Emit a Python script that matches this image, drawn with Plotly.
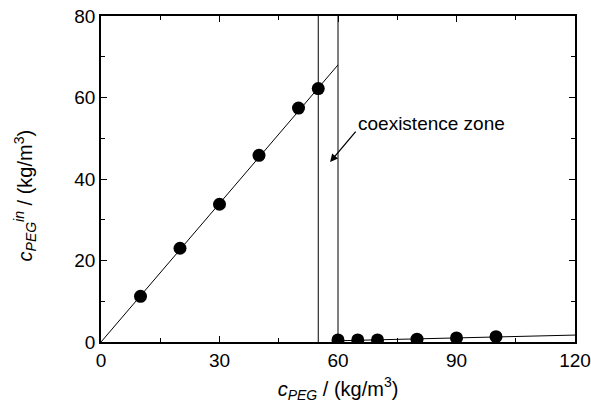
import plotly.graph_objects as go

# Data
x_low = [10, 20, 30, 40, 50, 55]
y_low = [11.2, 23.0, 33.8, 45.8, 57.4, 62.2]
x_high = [60, 65, 70, 80, 90, 100]
y_high = [0.5, 0.5, 0.5, 0.7, 1.0, 1.3]
fit1_x = [0, 60]
fit1_y = [0, 68]
fit2_x = [60, 120]
fit2_y = [0.3, 1.7]
zone_x = [55, 60]
x_ticks = [0, 30, 60, 90, 120]
y_ticks = [0, 20, 40, 60, 80]

FONT = "Arial, Liberation Sans, sans-serif"

fig = go.Figure()
fig.add_trace(go.Scatter(x=fit1_x, y=fit1_y, mode="lines",
                         line=dict(color="black", width=1), showlegend=False))
fig.add_trace(go.Scatter(x=fit2_x, y=fit2_y, mode="lines",
                         line=dict(color="black", width=1), showlegend=False))
for zx in zone_x:
    fig.add_trace(go.Scatter(x=[zx, zx], y=[0, 80], mode="lines",
                             line=dict(color="black", width=1), showlegend=False))
fig.add_trace(go.Scatter(x=x_low + x_high, y=y_low + y_high, mode="markers",
                         marker=dict(color="black", size=13), showlegend=False))

fig.add_annotation(x=58, y=44.2, ax=64.8, ay=52, xref="x", yref="y",
                   axref="x", ayref="y", text="", showarrow=True,
                   arrowhead=2, arrowsize=1.2, arrowwidth=1.3, arrowcolor="black")
fig.add_annotation(x=64.5, y=53.5, xref="x", yref="y", text="coexistence zone",
                   showarrow=False, xanchor="left", yanchor="middle",
                   font=dict(size=19, color="black", family=FONT))

axis_common = dict(showline=True, linecolor="black", linewidth=1.5, mirror="ticks",
                   ticks="inside", ticklen=6, tickwidth=1.2, tickcolor="black",
                   showgrid=False, zeroline=False, automargin=False,
                   ticklabeloverflow="allow",
                   tickfont=dict(size=19, color="black", family=FONT),
                   minor=dict(ticks="inside", ticklen=4, tickwidth=1.2, tickcolor="black"))

fig.update_xaxes(range=[0, 120], tickvals=x_ticks, **axis_common,
                 title=dict(text="<i>c</i><sub><i>PEG</i></sub> / (kg/m<sup>3</sup>)",
                            font=dict(size=20, color="black", family=FONT), standoff=12))
fig.update_xaxes(minor_dtick=15)
fig.update_yaxes(range=[0, 80], tickvals=y_ticks, **axis_common)
fig.update_yaxes(minor_dtick=10)

fig.add_annotation(xref="paper", yref="paper", x=-0.16, y=0.45, textangle=-90,
                   text="<i>c</i><sub><i>PEG</i></sub><sup><i>in</i></sup> / (kg/m<sup>3</sup>)",
                   showarrow=False, xanchor="center", yanchor="middle",
                   font=dict(size=20, color="black", family=FONT))

fig.update_layout(width=591, height=414, margin=dict(l=101, r=16, t=16, b=72),
                  plot_bgcolor="white", paper_bgcolor="white",
                  font=dict(family=FONT, color="black"))

fig.write_html("out.html")
